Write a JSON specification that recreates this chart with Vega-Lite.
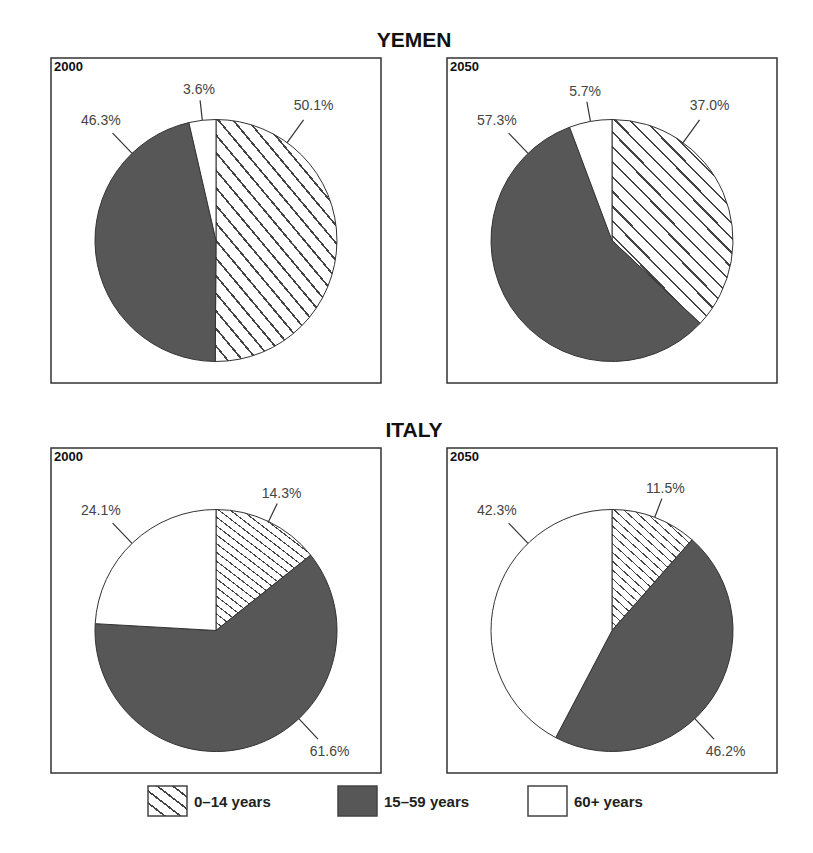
{
  "$schema": "https://vega.github.io/schema/vega-lite/v6.json",
  "background": "white",
  "padding": {"left": 50, "top": 30, "right": 5, "bottom": 5},
  "data": {
    "values": [
      {"country": "Yemen", "year": "2000", "group": "0–14 years", "share": 0.501},
      {"country": "Yemen", "year": "2000", "group": "15–59 years", "share": 0.463},
      {"country": "Yemen", "year": "2000", "group": "60+ years", "share": 0.036},
      {"country": "Yemen", "year": "2050", "group": "0–14 years", "share": 0.370},
      {"country": "Yemen", "year": "2050", "group": "15–59 years", "share": 0.573},
      {"country": "Yemen", "year": "2050", "group": "60+ years", "share": 0.057},
      {"country": "Italy", "year": "2000", "group": "0–14 years", "share": 0.143},
      {"country": "Italy", "year": "2000", "group": "15–59 years", "share": 0.616},
      {"country": "Italy", "year": "2000", "group": "60+ years", "share": 0.241},
      {"country": "Italy", "year": "2050", "group": "0–14 years", "share": 0.115},
      {"country": "Italy", "year": "2050", "group": "15–59 years", "share": 0.462},
      {"country": "Italy", "year": "2050", "group": "60+ years", "share": 0.423}
    ]
  },
  "spacing": 11,
  "resolve": {"scale": {"fill": "shared", "theta": "shared"}},
  "vconcat": [
    {
      "spacing": 36,
      "resolve": {"scale": {"fill": "shared", "theta": "shared"}},
      "vconcat": [
        {
          "title": {"text": "YEMEN", "anchor": "middle", "offset": 6, "fontSize": 21, "fontWeight": "bold", "font": "Liberation Sans", "color": "#111"},
          "spacing": 64,
          "resolve": {"scale": {"fill": "shared", "theta": "shared"}},
          "hconcat": [
            {
              "width": 330, "height": 325,
              "view": {"stroke": "#333", "strokeWidth": 1.5},
              "title": {"text": "2000", "anchor": "start", "frame": "group", "offset": -16, "dx": 3, "fontSize": 13, "fontWeight": "bold", "font": "Liberation Sans", "color": "#111"},
              "transform": [
                {"filter": {"and": [{"field": "country", "equal": "Yemen"}, {"field": "year", "equal": "2000"}]}},
                {"stack": "share", "groupby": [], "sort": [{"field": "group"}], "as": ["s0", "s1"]}
              ],
              "layer": [
                {"mark": {"type": "arc", "radius": 121, "stroke": "#333", "strokeWidth": 1, "yOffset": 20},
                 "encoding": {
                   "theta": {"field": "s0", "type": "quantitative", "scale": {"domain": [0, 1]}},
                   "theta2": {"field": "s1"},
                   "fill": {"condition": {"test": "datum.group === '0–14 years'", "value": {"gradient": "linear", "x1": 0, "y1": 1, "x2": 0.706, "y2": -0.176, "stops": [{"offset":0,"color":"#fff"},{"offset":0.0385,"color":"#fff"},{"offset":0.0385,"color":"#444"},{"offset":0.0455,"color":"#444"},{"offset":0.0455,"color":"#fff"},{"offset":0.0839,"color":"#fff"},{"offset":0.0839,"color":"#444"},{"offset":0.0909,"color":"#444"},{"offset":0.0909,"color":"#fff"},{"offset":0.1294,"color":"#fff"},{"offset":0.1294,"color":"#444"},{"offset":0.1364,"color":"#444"},{"offset":0.1364,"color":"#fff"},{"offset":0.1748,"color":"#fff"},{"offset":0.1748,"color":"#444"},{"offset":0.1818,"color":"#444"},{"offset":0.1818,"color":"#fff"},{"offset":0.2203,"color":"#fff"},{"offset":0.2203,"color":"#444"},{"offset":0.2273,"color":"#444"},{"offset":0.2273,"color":"#fff"},{"offset":0.2657,"color":"#fff"},{"offset":0.2657,"color":"#444"},{"offset":0.2727,"color":"#444"},{"offset":0.2727,"color":"#fff"},{"offset":0.3112,"color":"#fff"},{"offset":0.3112,"color":"#444"},{"offset":0.3182,"color":"#444"},{"offset":0.3182,"color":"#fff"},{"offset":0.3566,"color":"#fff"},{"offset":0.3566,"color":"#444"},{"offset":0.3636,"color":"#444"},{"offset":0.3636,"color":"#fff"},{"offset":0.4021,"color":"#fff"},{"offset":0.4021,"color":"#444"},{"offset":0.4091,"color":"#444"},{"offset":0.4091,"color":"#fff"},{"offset":0.4476,"color":"#fff"},{"offset":0.4476,"color":"#444"},{"offset":0.4545,"color":"#444"},{"offset":0.4545,"color":"#fff"},{"offset":0.493,"color":"#fff"},{"offset":0.493,"color":"#444"},{"offset":0.5,"color":"#444"},{"offset":0.5,"color":"#fff"},{"offset":0.5385,"color":"#fff"},{"offset":0.5385,"color":"#444"},{"offset":0.5455,"color":"#444"},{"offset":0.5455,"color":"#fff"},{"offset":0.5839,"color":"#fff"},{"offset":0.5839,"color":"#444"},{"offset":0.5909,"color":"#444"},{"offset":0.5909,"color":"#fff"},{"offset":0.6294,"color":"#fff"},{"offset":0.6294,"color":"#444"},{"offset":0.6364,"color":"#444"},{"offset":0.6364,"color":"#fff"},{"offset":0.6748,"color":"#fff"},{"offset":0.6748,"color":"#444"},{"offset":0.6818,"color":"#444"},{"offset":0.6818,"color":"#fff"},{"offset":0.7203,"color":"#fff"},{"offset":0.7203,"color":"#444"},{"offset":0.7273,"color":"#444"},{"offset":0.7273,"color":"#fff"},{"offset":0.7657,"color":"#fff"},{"offset":0.7657,"color":"#444"},{"offset":0.7727,"color":"#444"},{"offset":0.7727,"color":"#fff"},{"offset":0.8112,"color":"#fff"},{"offset":0.8112,"color":"#444"},{"offset":0.8182,"color":"#444"},{"offset":0.8182,"color":"#fff"},{"offset":0.8566,"color":"#fff"},{"offset":0.8566,"color":"#444"},{"offset":0.8636,"color":"#444"},{"offset":0.8636,"color":"#fff"},{"offset":0.9021,"color":"#fff"},{"offset":0.9021,"color":"#444"},{"offset":0.9091,"color":"#444"},{"offset":0.9091,"color":"#fff"},{"offset":0.9476,"color":"#fff"},{"offset":0.9476,"color":"#444"},{"offset":0.9545,"color":"#444"},{"offset":0.9545,"color":"#fff"},{"offset":0.993,"color":"#fff"},{"offset":0.993,"color":"#444"},{"offset":1,"color":"#444"}]}},
                     "field": "group", "type": "nominal",
                     "scale": {"domain": ["0–14 years", "15–59 years", "60+ years"], "range": ["#ffffff", "#575757", "#ffffff"]},
                     "legend": null}
                 }},
                {"transform": [{"fold": ["s0", "s1"]}, {"aggregate": [{"op": "mean", "field": "value", "as": "mid"}], "groupby": ["group", "share"]}],
                 "layer": [
                   {"mark": {"type": "arc", "yOffset": 20, "stroke": "#333", "strokeWidth": 1.2, "fill": null,
                             "theta": {"expr": "2*PI*(datum.mid < 0.1 || datum.mid > 0.95 ? datum.mid : datum.mid < 0.3 ? 0.1 : datum.mid < 0.5 ? 0.38 : 0.878)"},
                             "theta2": {"expr": "2*PI*(datum.mid < 0.1 || datum.mid > 0.95 ? datum.mid : datum.mid < 0.3 ? 0.1 : datum.mid < 0.5 ? 0.38 : 0.878)"},
                             "radius": {"expr": "datum.mid < 0.1 || datum.mid > 0.95 ? 141 : 149"}, "radius2": 121},
                    "encoding": {}},
                   {"mark": {"type": "text", "yOffset": 20, "font": "Liberation Sans", "fontSize": 14, "color": "#444", "align": "center", "baseline": "middle",
                             "theta": {"expr": "2*PI*(datum.mid < 0.1 || datum.mid > 0.95 ? datum.mid : datum.mid < 0.3 ? 0.1 : datum.mid < 0.5 ? 0.38 : 0.878)"},
                             "radius": {"expr": "datum.mid < 0.1 || datum.mid > 0.95 ? 151 : 166"}},
                    "encoding": {"text": {"field": "share", "type": "quantitative", "format": ".1%"}}}
                 ]}
              ]
            },
            {
              "width": 330, "height": 325,
              "view": {"stroke": "#333", "strokeWidth": 1.5},
              "title": {"text": "2050", "anchor": "start", "frame": "group", "offset": -16, "dx": 3, "fontSize": 13, "fontWeight": "bold", "font": "Liberation Sans", "color": "#111"},
              "transform": [
                {"filter": {"and": [{"field": "country", "equal": "Yemen"}, {"field": "year", "equal": "2050"}]}},
                {"stack": "share", "groupby": [], "sort": [{"field": "group"}], "as": ["s0", "s1"]}
              ],
              "layer": [
                {"mark": {"type": "arc", "radius": 121, "stroke": "#333", "strokeWidth": 1, "yOffset": 20},
                 "encoding": {
                   "theta": {"field": "s0", "type": "quantitative", "scale": {"domain": [0, 1]}},
                   "theta2": {"field": "s1"},
                   "fill": {"condition": {"test": "datum.group === '0–14 years'", "value": {"gradient": "linear", "x1": 0, "y1": 1, "x2": 0.706, "y2": -0.176, "stops": [{"offset":0,"color":"#fff"},{"offset":0.0385,"color":"#fff"},{"offset":0.0385,"color":"#444"},{"offset":0.0455,"color":"#444"},{"offset":0.0455,"color":"#fff"},{"offset":0.0839,"color":"#fff"},{"offset":0.0839,"color":"#444"},{"offset":0.0909,"color":"#444"},{"offset":0.0909,"color":"#fff"},{"offset":0.1294,"color":"#fff"},{"offset":0.1294,"color":"#444"},{"offset":0.1364,"color":"#444"},{"offset":0.1364,"color":"#fff"},{"offset":0.1748,"color":"#fff"},{"offset":0.1748,"color":"#444"},{"offset":0.1818,"color":"#444"},{"offset":0.1818,"color":"#fff"},{"offset":0.2203,"color":"#fff"},{"offset":0.2203,"color":"#444"},{"offset":0.2273,"color":"#444"},{"offset":0.2273,"color":"#fff"},{"offset":0.2657,"color":"#fff"},{"offset":0.2657,"color":"#444"},{"offset":0.2727,"color":"#444"},{"offset":0.2727,"color":"#fff"},{"offset":0.3112,"color":"#fff"},{"offset":0.3112,"color":"#444"},{"offset":0.3182,"color":"#444"},{"offset":0.3182,"color":"#fff"},{"offset":0.3566,"color":"#fff"},{"offset":0.3566,"color":"#444"},{"offset":0.3636,"color":"#444"},{"offset":0.3636,"color":"#fff"},{"offset":0.4021,"color":"#fff"},{"offset":0.4021,"color":"#444"},{"offset":0.4091,"color":"#444"},{"offset":0.4091,"color":"#fff"},{"offset":0.4476,"color":"#fff"},{"offset":0.4476,"color":"#444"},{"offset":0.4545,"color":"#444"},{"offset":0.4545,"color":"#fff"},{"offset":0.493,"color":"#fff"},{"offset":0.493,"color":"#444"},{"offset":0.5,"color":"#444"},{"offset":0.5,"color":"#fff"},{"offset":0.5385,"color":"#fff"},{"offset":0.5385,"color":"#444"},{"offset":0.5455,"color":"#444"},{"offset":0.5455,"color":"#fff"},{"offset":0.5839,"color":"#fff"},{"offset":0.5839,"color":"#444"},{"offset":0.5909,"color":"#444"},{"offset":0.5909,"color":"#fff"},{"offset":0.6294,"color":"#fff"},{"offset":0.6294,"color":"#444"},{"offset":0.6364,"color":"#444"},{"offset":0.6364,"color":"#fff"},{"offset":0.6748,"color":"#fff"},{"offset":0.6748,"color":"#444"},{"offset":0.6818,"color":"#444"},{"offset":0.6818,"color":"#fff"},{"offset":0.7203,"color":"#fff"},{"offset":0.7203,"color":"#444"},{"offset":0.7273,"color":"#444"},{"offset":0.7273,"color":"#fff"},{"offset":0.7657,"color":"#fff"},{"offset":0.7657,"color":"#444"},{"offset":0.7727,"color":"#444"},{"offset":0.7727,"color":"#fff"},{"offset":0.8112,"color":"#fff"},{"offset":0.8112,"color":"#444"},{"offset":0.8182,"color":"#444"},{"offset":0.8182,"color":"#fff"},{"offset":0.8566,"color":"#fff"},{"offset":0.8566,"color":"#444"},{"offset":0.8636,"color":"#444"},{"offset":0.8636,"color":"#fff"},{"offset":0.9021,"color":"#fff"},{"offset":0.9021,"color":"#444"},{"offset":0.9091,"color":"#444"},{"offset":0.9091,"color":"#fff"},{"offset":0.9476,"color":"#fff"},{"offset":0.9476,"color":"#444"},{"offset":0.9545,"color":"#444"},{"offset":0.9545,"color":"#fff"},{"offset":0.993,"color":"#fff"},{"offset":0.993,"color":"#444"},{"offset":1,"color":"#444"}]}},
                     "field": "group", "type": "nominal", "legend": null}
                 }},
                {"transform": [{"fold": ["s0", "s1"]}, {"aggregate": [{"op": "mean", "field": "value", "as": "mid"}], "groupby": ["group", "share"]}],
                 "layer": [
                   {"mark": {"type": "arc", "yOffset": 20, "stroke": "#333", "strokeWidth": 1.2, "fill": null,
                             "theta": {"expr": "2*PI*(datum.mid < 0.1 || datum.mid > 0.95 ? datum.mid : datum.mid < 0.3 ? 0.1 : datum.mid < 0.5 ? 0.38 : 0.878)"},
                             "theta2": {"expr": "2*PI*(datum.mid < 0.1 || datum.mid > 0.95 ? datum.mid : datum.mid < 0.3 ? 0.1 : datum.mid < 0.5 ? 0.38 : 0.878)"},
                             "radius": {"expr": "datum.mid < 0.1 || datum.mid > 0.95 ? 141 : 149"}, "radius2": 121},
                    "encoding": {}},
                   {"mark": {"type": "text", "yOffset": 20, "font": "Liberation Sans", "fontSize": 14, "color": "#444", "align": "center", "baseline": "middle",
                             "theta": {"expr": "2*PI*(datum.mid < 0.1 || datum.mid > 0.95 ? datum.mid : datum.mid < 0.3 ? 0.1 : datum.mid < 0.5 ? 0.38 : 0.878)"},
                             "radius": {"expr": "datum.mid < 0.1 || datum.mid > 0.95 ? 151 : 166"}},
                    "encoding": {"text": {"field": "share", "type": "quantitative", "format": ".1%"}}}
                 ]}
              ]
            }
          ]
        },
        {
          "title": {"text": "ITALY", "anchor": "middle", "offset": 6, "fontSize": 21, "fontWeight": "bold", "font": "Liberation Sans", "color": "#111"},
          "spacing": 64,
          "resolve": {"scale": {"fill": "shared", "theta": "shared"}},
          "hconcat": [
            {
              "width": 330, "height": 325,
              "view": {"stroke": "#333", "strokeWidth": 1.5},
              "title": {"text": "2000", "anchor": "start", "frame": "group", "offset": -16, "dx": 3, "fontSize": 13, "fontWeight": "bold", "font": "Liberation Sans", "color": "#111"},
              "transform": [
                {"filter": {"and": [{"field": "country", "equal": "Italy"}, {"field": "year", "equal": "2000"}]}},
                {"stack": "share", "groupby": [], "sort": [{"field": "group"}], "as": ["s0", "s1"]}
              ],
              "layer": [
                {"mark": {"type": "arc", "radius": 121, "stroke": "#333", "strokeWidth": 1, "yOffset": 20},
                 "encoding": {
                   "theta": {"field": "s0", "type": "quantitative", "scale": {"domain": [0, 1]}},
                   "theta2": {"field": "s1"},
                   "fill": {"condition": {"test": "datum.group === '0–14 years'", "value": {"gradient": "linear", "x1": 0, "y1": 1, "x2": 0.706, "y2": -0.176, "stops": [{"offset":0,"color":"#fff"},{"offset":0.0385,"color":"#fff"},{"offset":0.0385,"color":"#444"},{"offset":0.0455,"color":"#444"},{"offset":0.0455,"color":"#fff"},{"offset":0.0839,"color":"#fff"},{"offset":0.0839,"color":"#444"},{"offset":0.0909,"color":"#444"},{"offset":0.0909,"color":"#fff"},{"offset":0.1294,"color":"#fff"},{"offset":0.1294,"color":"#444"},{"offset":0.1364,"color":"#444"},{"offset":0.1364,"color":"#fff"},{"offset":0.1748,"color":"#fff"},{"offset":0.1748,"color":"#444"},{"offset":0.1818,"color":"#444"},{"offset":0.1818,"color":"#fff"},{"offset":0.2203,"color":"#fff"},{"offset":0.2203,"color":"#444"},{"offset":0.2273,"color":"#444"},{"offset":0.2273,"color":"#fff"},{"offset":0.2657,"color":"#fff"},{"offset":0.2657,"color":"#444"},{"offset":0.2727,"color":"#444"},{"offset":0.2727,"color":"#fff"},{"offset":0.3112,"color":"#fff"},{"offset":0.3112,"color":"#444"},{"offset":0.3182,"color":"#444"},{"offset":0.3182,"color":"#fff"},{"offset":0.3566,"color":"#fff"},{"offset":0.3566,"color":"#444"},{"offset":0.3636,"color":"#444"},{"offset":0.3636,"color":"#fff"},{"offset":0.4021,"color":"#fff"},{"offset":0.4021,"color":"#444"},{"offset":0.4091,"color":"#444"},{"offset":0.4091,"color":"#fff"},{"offset":0.4476,"color":"#fff"},{"offset":0.4476,"color":"#444"},{"offset":0.4545,"color":"#444"},{"offset":0.4545,"color":"#fff"},{"offset":0.493,"color":"#fff"},{"offset":0.493,"color":"#444"},{"offset":0.5,"color":"#444"},{"offset":0.5,"color":"#fff"},{"offset":0.5385,"color":"#fff"},{"offset":0.5385,"color":"#444"},{"offset":0.5455,"color":"#444"},{"offset":0.5455,"color":"#fff"},{"offset":0.5839,"color":"#fff"},{"offset":0.5839,"color":"#444"},{"offset":0.5909,"color":"#444"},{"offset":0.5909,"color":"#fff"},{"offset":0.6294,"color":"#fff"},{"offset":0.6294,"color":"#444"},{"offset":0.6364,"color":"#444"},{"offset":0.6364,"color":"#fff"},{"offset":0.6748,"color":"#fff"},{"offset":0.6748,"color":"#444"},{"offset":0.6818,"color":"#444"},{"offset":0.6818,"color":"#fff"},{"offset":0.7203,"color":"#fff"},{"offset":0.7203,"color":"#444"},{"offset":0.7273,"color":"#444"},{"offset":0.7273,"color":"#fff"},{"offset":0.7657,"color":"#fff"},{"offset":0.7657,"color":"#444"},{"offset":0.7727,"color":"#444"},{"offset":0.7727,"color":"#fff"},{"offset":0.8112,"color":"#fff"},{"offset":0.8112,"color":"#444"},{"offset":0.8182,"color":"#444"},{"offset":0.8182,"color":"#fff"},{"offset":0.8566,"color":"#fff"},{"offset":0.8566,"color":"#444"},{"offset":0.8636,"color":"#444"},{"offset":0.8636,"color":"#fff"},{"offset":0.9021,"color":"#fff"},{"offset":0.9021,"color":"#444"},{"offset":0.9091,"color":"#444"},{"offset":0.9091,"color":"#fff"},{"offset":0.9476,"color":"#fff"},{"offset":0.9476,"color":"#444"},{"offset":0.9545,"color":"#444"},{"offset":0.9545,"color":"#fff"},{"offset":0.993,"color":"#fff"},{"offset":0.993,"color":"#444"},{"offset":1,"color":"#444"}]}},
                     "field": "group", "type": "nominal", "legend": null}
                 }},
                {"transform": [{"fold": ["s0", "s1"]}, {"aggregate": [{"op": "mean", "field": "value", "as": "mid"}], "groupby": ["group", "share"]}],
                 "layer": [
                   {"mark": {"type": "arc", "yOffset": 20, "stroke": "#333", "strokeWidth": 1.2, "fill": null,
                             "theta": {"expr": "2*PI*(datum.mid < 0.1 || datum.mid > 0.95 ? datum.mid : datum.mid < 0.3 ? 0.1 : datum.mid < 0.5 ? 0.38 : 0.878)"},
                             "theta2": {"expr": "2*PI*(datum.mid < 0.1 || datum.mid > 0.95 ? datum.mid : datum.mid < 0.3 ? 0.1 : datum.mid < 0.5 ? 0.38 : 0.878)"},
                             "radius": {"expr": "datum.mid < 0.1 || datum.mid > 0.95 ? 141 : 149"}, "radius2": 121},
                    "encoding": {}},
                   {"mark": {"type": "text", "yOffset": 20, "font": "Liberation Sans", "fontSize": 14, "color": "#444", "align": "center", "baseline": "middle",
                             "theta": {"expr": "2*PI*(datum.mid < 0.1 || datum.mid > 0.95 ? datum.mid : datum.mid < 0.3 ? 0.1 : datum.mid < 0.5 ? 0.38 : 0.878)"},
                             "radius": {"expr": "datum.mid < 0.1 || datum.mid > 0.95 ? 151 : 166"}},
                    "encoding": {"text": {"field": "share", "type": "quantitative", "format": ".1%"}}}
                 ]}
              ]
            },
            {
              "width": 330, "height": 325,
              "view": {"stroke": "#333", "strokeWidth": 1.5},
              "title": {"text": "2050", "anchor": "start", "frame": "group", "offset": -16, "dx": 3, "fontSize": 13, "fontWeight": "bold", "font": "Liberation Sans", "color": "#111"},
              "transform": [
                {"filter": {"and": [{"field": "country", "equal": "Italy"}, {"field": "year", "equal": "2050"}]}},
                {"stack": "share", "groupby": [], "sort": [{"field": "group"}], "as": ["s0", "s1"]}
              ],
              "layer": [
                {"mark": {"type": "arc", "radius": 121, "stroke": "#333", "strokeWidth": 1, "yOffset": 20},
                 "encoding": {
                   "theta": {"field": "s0", "type": "quantitative", "scale": {"domain": [0, 1]}},
                   "theta2": {"field": "s1"},
                   "fill": {"condition": {"test": "datum.group === '0–14 years'", "value": {"gradient": "linear", "x1": 0, "y1": 1, "x2": 0.706, "y2": -0.176, "stops": [{"offset":0,"color":"#fff"},{"offset":0.0385,"color":"#fff"},{"offset":0.0385,"color":"#444"},{"offset":0.0455,"color":"#444"},{"offset":0.0455,"color":"#fff"},{"offset":0.0839,"color":"#fff"},{"offset":0.0839,"color":"#444"},{"offset":0.0909,"color":"#444"},{"offset":0.0909,"color":"#fff"},{"offset":0.1294,"color":"#fff"},{"offset":0.1294,"color":"#444"},{"offset":0.1364,"color":"#444"},{"offset":0.1364,"color":"#fff"},{"offset":0.1748,"color":"#fff"},{"offset":0.1748,"color":"#444"},{"offset":0.1818,"color":"#444"},{"offset":0.1818,"color":"#fff"},{"offset":0.2203,"color":"#fff"},{"offset":0.2203,"color":"#444"},{"offset":0.2273,"color":"#444"},{"offset":0.2273,"color":"#fff"},{"offset":0.2657,"color":"#fff"},{"offset":0.2657,"color":"#444"},{"offset":0.2727,"color":"#444"},{"offset":0.2727,"color":"#fff"},{"offset":0.3112,"color":"#fff"},{"offset":0.3112,"color":"#444"},{"offset":0.3182,"color":"#444"},{"offset":0.3182,"color":"#fff"},{"offset":0.3566,"color":"#fff"},{"offset":0.3566,"color":"#444"},{"offset":0.3636,"color":"#444"},{"offset":0.3636,"color":"#fff"},{"offset":0.4021,"color":"#fff"},{"offset":0.4021,"color":"#444"},{"offset":0.4091,"color":"#444"},{"offset":0.4091,"color":"#fff"},{"offset":0.4476,"color":"#fff"},{"offset":0.4476,"color":"#444"},{"offset":0.4545,"color":"#444"},{"offset":0.4545,"color":"#fff"},{"offset":0.493,"color":"#fff"},{"offset":0.493,"color":"#444"},{"offset":0.5,"color":"#444"},{"offset":0.5,"color":"#fff"},{"offset":0.5385,"color":"#fff"},{"offset":0.5385,"color":"#444"},{"offset":0.5455,"color":"#444"},{"offset":0.5455,"color":"#fff"},{"offset":0.5839,"color":"#fff"},{"offset":0.5839,"color":"#444"},{"offset":0.5909,"color":"#444"},{"offset":0.5909,"color":"#fff"},{"offset":0.6294,"color":"#fff"},{"offset":0.6294,"color":"#444"},{"offset":0.6364,"color":"#444"},{"offset":0.6364,"color":"#fff"},{"offset":0.6748,"color":"#fff"},{"offset":0.6748,"color":"#444"},{"offset":0.6818,"color":"#444"},{"offset":0.6818,"color":"#fff"},{"offset":0.7203,"color":"#fff"},{"offset":0.7203,"color":"#444"},{"offset":0.7273,"color":"#444"},{"offset":0.7273,"color":"#fff"},{"offset":0.7657,"color":"#fff"},{"offset":0.7657,"color":"#444"},{"offset":0.7727,"color":"#444"},{"offset":0.7727,"color":"#fff"},{"offset":0.8112,"color":"#fff"},{"offset":0.8112,"color":"#444"},{"offset":0.8182,"color":"#444"},{"offset":0.8182,"color":"#fff"},{"offset":0.8566,"color":"#fff"},{"offset":0.8566,"color":"#444"},{"offset":0.8636,"color":"#444"},{"offset":0.8636,"color":"#fff"},{"offset":0.9021,"color":"#fff"},{"offset":0.9021,"color":"#444"},{"offset":0.9091,"color":"#444"},{"offset":0.9091,"color":"#fff"},{"offset":0.9476,"color":"#fff"},{"offset":0.9476,"color":"#444"},{"offset":0.9545,"color":"#444"},{"offset":0.9545,"color":"#fff"},{"offset":0.993,"color":"#fff"},{"offset":0.993,"color":"#444"},{"offset":1,"color":"#444"}]}},
                     "field": "group", "type": "nominal", "legend": null}
                 }},
                {"transform": [{"fold": ["s0", "s1"]}, {"aggregate": [{"op": "mean", "field": "value", "as": "mid"}], "groupby": ["group", "share"]}],
                 "layer": [
                   {"mark": {"type": "arc", "yOffset": 20, "stroke": "#333", "strokeWidth": 1.2, "fill": null,
                             "theta": {"expr": "2*PI*(datum.mid < 0.1 || datum.mid > 0.95 ? datum.mid : datum.mid < 0.3 ? 0.1 : datum.mid < 0.5 ? 0.38 : 0.878)"},
                             "theta2": {"expr": "2*PI*(datum.mid < 0.1 || datum.mid > 0.95 ? datum.mid : datum.mid < 0.3 ? 0.1 : datum.mid < 0.5 ? 0.38 : 0.878)"},
                             "radius": {"expr": "datum.mid < 0.1 || datum.mid > 0.95 ? 141 : 149"}, "radius2": 121},
                    "encoding": {}},
                   {"mark": {"type": "text", "yOffset": 20, "font": "Liberation Sans", "fontSize": 14, "color": "#444", "align": "center", "baseline": "middle",
                             "theta": {"expr": "2*PI*(datum.mid < 0.1 || datum.mid > 0.95 ? datum.mid : datum.mid < 0.3 ? 0.1 : datum.mid < 0.5 ? 0.38 : 0.878)"},
                             "radius": {"expr": "datum.mid < 0.1 || datum.mid > 0.95 ? 151 : 166"}},
                    "encoding": {"text": {"field": "share", "type": "quantitative", "format": ".1%"}}}
                 ]}
              ]
            }
          ]
        }
      ]
    },
    {
      "width": 724, "height": 30,
      "view": {"stroke": null},
      "transform": [{"filter": {"and": [{"field": "country", "equal": "Yemen"}, {"field": "year", "equal": "2000"}]}}],
      "encoding": {
        "x": {"field": "group", "type": "nominal", "sort": ["0–14 years", "15–59 years", "60+ years"], "axis": null, "scale": {"range": [97, 667], "paddingInner": 0, "paddingOuter": 0}}
      },
      "layer": [
        {"mark": {"type": "rect", "width": 39, "height": 30, "xOffset": -75.5, "stroke": "#444", "strokeWidth": 1.5},
         "encoding": {
           "fill": {"condition": {"test": "datum.group === '0–14 years'", "value": {"gradient": "linear", "x1": 0, "y1": 1, "x2": 1, "y2": 0, "stops": [{"offset":0,"color":"#fff"},{"offset":0.2,"color":"#fff"},{"offset":0.2,"color":"#444"},{"offset":0.235,"color":"#444"},{"offset":0.235,"color":"#fff"},{"offset":0.4,"color":"#fff"},{"offset":0.4,"color":"#444"},{"offset":0.435,"color":"#444"},{"offset":0.435,"color":"#fff"},{"offset":0.6,"color":"#fff"},{"offset":0.6,"color":"#444"},{"offset":0.635,"color":"#444"},{"offset":0.635,"color":"#fff"},{"offset":0.8,"color":"#fff"},{"offset":0.8,"color":"#444"},{"offset":0.835,"color":"#444"},{"offset":0.835,"color":"#fff"},{"offset":1,"color":"#fff"}]}},
             "field": "group", "type": "nominal", "legend": null}
         }},
        {"mark": {"type": "text", "align": "left", "baseline": "middle", "xOffset": -49, "dy": -14, "font": "Liberation Sans", "fontSize": 15, "fontWeight": "bold", "color": "#222"},
         "encoding": {"text": {"field": "group", "type": "nominal"}}}
      ]
    }
  ]
}
